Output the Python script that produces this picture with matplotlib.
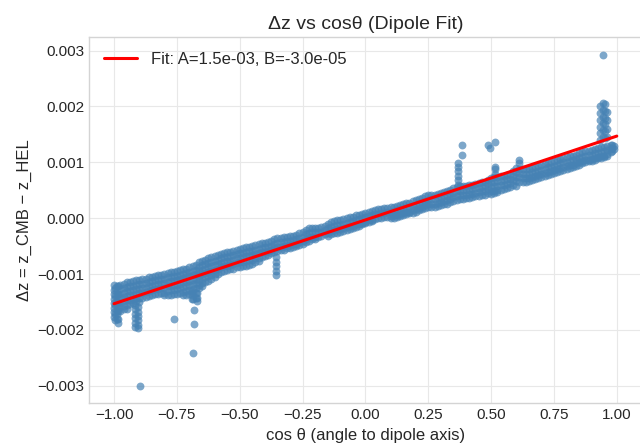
import numpy as np
import matplotlib.pyplot as plt

plt.style.use('seaborn-v0_8-whitegrid')
plt.rcParams['font.family'] = ['Liberation Sans', 'DejaVu Sans']

# main band, read column by column (dz in units of 1e-3)
band_cos = [-1.000, -0.995, -0.985, -0.975, -0.950, -0.925, -0.900, -0.875, -0.850, -0.825,
            -0.800, -0.775, -0.750, -0.725, -0.700, -0.675, -0.650, -0.625, -0.600, -0.575,
            -0.550, -0.525, -0.500, -0.475, -0.450, -0.425, -0.400, -0.375, -0.350, -0.325,
            -0.300, -0.275, -0.250, -0.225, -0.200, -0.175, -0.150, -0.125, -0.100, -0.075,
            -0.050, -0.025, 0.000, 0.025, 0.050, 0.075, 0.100, 0.125, 0.150, 0.175,
            0.200, 0.225, 0.250, 0.275, 0.300, 0.325, 0.350, 0.375, 0.400, 0.425,
            0.450, 0.475, 0.500, 0.525, 0.550, 0.575, 0.600, 0.625, 0.650, 0.675,
            0.700, 0.725, 0.750, 0.775, 0.800, 0.825, 0.850, 0.875, 0.900, 0.925,
            0.950, 0.975, 0.990]
band_dz = [
    [-1.20, -1.28, -1.36, -1.44, -1.52, -1.60, -1.68, -1.76],
    [-1.24, -1.40, -1.56, -1.72, -1.83],
    [-1.22, -1.35, -1.50, -1.66, -1.80, -1.87],
    [-1.19, -1.27, -1.35, -1.43, -1.51, -1.59, -1.66],
    [-1.15, -1.23, -1.31, -1.39, -1.47, -1.55, -1.62],
    [-1.13, -1.21, -1.29, -1.37, -1.45, -1.52],
    [-1.10, -1.18, -1.26, -1.34, -1.42, -1.50],
    [-1.08, -1.16, -1.24, -1.32, -1.41],
    [-1.05, -1.13, -1.21, -1.29, -1.38],
    [-1.02, -1.10, -1.18, -1.26, -1.35],
    [-1.00, -1.08, -1.16, -1.24, -1.33, -1.38],
    [-0.97, -1.05, -1.13, -1.21, -1.29, -1.37],
    [-0.95, -1.03, -1.11, -1.19, -1.27, -1.36],
    [-0.91, -0.99, -1.07, -1.15, -1.23, -1.32, -1.38],
    [-0.88, -0.96, -1.04, -1.12, -1.20, -1.28, -1.36],
    [-0.84, -0.92, -1.00, -1.08, -1.16, -1.24, -1.33, -1.42],
    [-0.76, -0.84, -0.92, -1.00, -1.08, -1.16, -1.22],
    [-0.72, -0.80, -0.88, -0.96, -1.04, -1.12],
    [-0.68, -0.76, -0.84, -0.92, -1.00, -1.06],
    [-0.64, -0.72, -0.80, -0.88, -0.97],
    [-0.61, -0.69, -0.77, -0.85, -0.93],
    [-0.58, -0.66, -0.74, -0.82, -0.90],
    [-0.55, -0.63, -0.71, -0.79, -0.87],
    [-0.52, -0.60, -0.68, -0.76, -0.85],
    [-0.50, -0.58, -0.66, -0.74, -0.82],
    [-0.47, -0.55, -0.63, -0.71, -0.77],
    [-0.44, -0.52, -0.60, -0.67],
    [-0.41, -0.49, -0.57, -0.63],
    [-0.36, -0.44, -0.52, -0.59],
    [-0.34, -0.42, -0.50, -0.56],
    [-0.32, -0.40, -0.48, -0.53],
    [-0.30, -0.38, -0.46, -0.50],
    [-0.25, -0.33, -0.41, -0.47],
    [-0.18, -0.26, -0.34, -0.40],
    [-0.17, -0.25, -0.33, -0.37],
    [-0.16, -0.24, -0.32],
    [-0.10, -0.18, -0.26, -0.31],
    [-0.05, -0.13, -0.21, -0.27],
    [-0.04, -0.12, -0.20, -0.25],
    [0.00, -0.08, -0.16, -0.21],
    [0.03, -0.05, -0.13, -0.17],
    [0.06, -0.02, -0.10, -0.13],
    [0.10, 0.02, -0.06, -0.09],
    [0.13, 0.05, -0.03, -0.05],
    [0.16, 0.08, 0.00],
    [0.18, 0.10, 0.02],
    [0.20, 0.12, 0.04, 0.00],
    [0.22, 0.14, 0.06, 0.03],
    [0.25, 0.17, 0.09, 0.06],
    [0.28, 0.20, 0.12, 0.09],
    [0.32, 0.24, 0.16, 0.12],
    [0.37, 0.29, 0.21, 0.17],
    [0.41, 0.33, 0.25, 0.20],
    [0.42, 0.34, 0.26, 0.21],
    [0.45, 0.37, 0.29, 0.23],
    [0.48, 0.40, 0.32, 0.26],
    [0.54, 0.46, 0.38, 0.31],
    [0.57, 0.49, 0.41, 0.34],
    [0.58, 0.50, 0.42, 0.36],
    [0.60, 0.52, 0.44, 0.38],
    [0.63, 0.55, 0.47, 0.40],
    [0.65, 0.57, 0.49, 0.42],
    [0.72, 0.64, 0.56, 0.48, 0.44],
    [0.74, 0.66, 0.58, 0.50, 0.47],
    [0.76, 0.68, 0.60, 0.52],
    [0.79, 0.71, 0.63, 0.56],
    [0.90, 0.82, 0.74, 0.66, 0.58],
    [0.88, 0.80, 0.72, 0.64],
    [0.88, 0.80, 0.72, 0.66],
    [0.91, 0.83, 0.75, 0.70],
    [0.95, 0.87, 0.79, 0.74],
    [0.99, 0.91, 0.83, 0.78],
    [1.02, 0.94, 0.86, 0.81],
    [1.06, 0.98, 0.90, 0.85],
    [1.09, 1.01, 0.93, 0.89],
    [1.12, 1.04, 0.96, 0.92],
    [1.16, 1.08, 1.00, 0.96],
    [1.20, 1.12, 1.04, 1.00],
    [1.22, 1.14, 1.06, 1.03],
    [1.25, 1.17, 1.09, 1.07],
    [1.28, 1.20, 1.12, 1.10],
    [1.31, 1.24, 1.18],
    [1.30, 1.24],
]

# second pass over the band, between the columns above
band2_cos = [-0.9875, -0.9625, -0.9375, -0.9125, -0.8875, -0.8625, -0.8375, -0.8125, -0.7875, -0.7625,
             -0.7375, -0.7125, -0.6875, -0.6625, -0.6375, -0.6125, -0.5875, -0.5625, -0.5375, -0.5125,
             -0.4875, -0.4625, -0.4375, -0.4125, -0.3875, -0.3625, -0.3375, -0.3125, -0.2875, -0.2625,
             -0.2375, -0.2125, -0.1875, -0.1625, -0.1375, -0.1125, -0.0875, -0.0625, -0.0375, -0.0125,
             0.0125, 0.0375, 0.0625, 0.0875, 0.1125, 0.1375, 0.1625, 0.1875, 0.2125, 0.2375,
             0.2625, 0.2875, 0.3125, 0.3375, 0.3625, 0.3875, 0.4125, 0.4375, 0.4625, 0.4875,
             0.5125, 0.5375, 0.5625, 0.5875, 0.6125, 0.6375, 0.6625, 0.6875, 0.7125, 0.7375,
             0.7625, 0.7875, 0.8125, 0.8375, 0.8625, 0.8875, 0.9125, 0.9375, 0.9625, 0.9825]
band2_dz = [
    [-1.22, -1.31, -1.40, -1.48, -1.56, -1.64, -1.72, -1.80],
    [-1.17, -1.25, -1.33, -1.41, -1.49, -1.57, -1.63],
    [-1.14, -1.22, -1.30, -1.38, -1.46, -1.54],
    [-1.11, -1.19, -1.27, -1.35, -1.43, -1.49],
    [-1.09, -1.17, -1.25, -1.33, -1.42],
    [-1.06, -1.14, -1.22, -1.30, -1.39],
    [-1.03, -1.11, -1.19, -1.27, -1.36],
    [-1.01, -1.09, -1.17, -1.25, -1.34],
    [-0.98, -1.06, -1.14, -1.22, -1.30, -1.37],
    [-0.96, -1.04, -1.12, -1.20, -1.28, -1.36],
    [-0.93, -1.01, -1.09, -1.17, -1.25, -1.33],
    [-0.90, -0.98, -1.06, -1.14, -1.22, -1.30, -1.37],
    [-0.86, -0.94, -1.02, -1.10, -1.18, -1.26, -1.34, -1.44],
    [-0.79, -0.87, -0.95, -1.03, -1.11, -1.19, -1.25],
    [-0.74, -0.82, -0.90, -0.98, -1.06, -1.14],
    [-0.70, -0.78, -0.86, -0.94, -1.02, -1.09],
    [-0.66, -0.74, -0.82, -0.90, -0.99],
    [-0.62, -0.70, -0.78, -0.86, -0.94],
    [-0.60, -0.68, -0.76, -0.84, -0.91],
    [-0.56, -0.64, -0.72, -0.80, -0.88],
    [-0.54, -0.62, -0.70, -0.78, -0.86],
    [-0.51, -0.59, -0.67, -0.75, -0.83],
    [-0.48, -0.56, -0.64, -0.72, -0.79],
    [-0.45, -0.53, -0.61, -0.70],
    [-0.43, -0.51, -0.59, -0.65],
    [-0.38, -0.46, -0.54, -0.61],
    [-0.35, -0.43, -0.51, -0.57],
    [-0.33, -0.41, -0.49, -0.54],
    [-0.31, -0.39, -0.47, -0.51],
    [-0.27, -0.35, -0.43, -0.48],
    [-0.21, -0.29, -0.37, -0.43],
    [-0.17, -0.25, -0.33, -0.38],
    [-0.17, -0.25, -0.33],
    [-0.13, -0.21, -0.29],
    [-0.07, -0.15, -0.23, -0.29],
    [-0.04, -0.12, -0.20, -0.26],
    [-0.02, -0.10, -0.18, -0.23],
    [0.02, -0.06, -0.14, -0.19],
    [0.05, -0.03, -0.11, -0.15],
    [0.08, 0.00, -0.08, -0.11],
    [0.12, 0.04, -0.04, -0.07],
    [0.15, 0.07, -0.01],
    [0.17, 0.09, 0.01],
    [0.19, 0.11, 0.03],
    [0.21, 0.13, 0.05, 0.01],
    [0.24, 0.16, 0.08, 0.04],
    [0.27, 0.19, 0.11, 0.07],
    [0.30, 0.22, 0.14, 0.10],
    [0.35, 0.27, 0.19, 0.14],
    [0.39, 0.31, 0.23, 0.18],
    [0.42, 0.34, 0.26, 0.21],
    [0.44, 0.36, 0.28, 0.22],
    [0.47, 0.39, 0.31, 0.25],
    [0.51, 0.43, 0.35, 0.29],
    [0.56, 0.48, 0.40, 0.33],
    [0.58, 0.50, 0.42, 0.35],
    [0.59, 0.51, 0.43, 0.37],
    [0.62, 0.54, 0.46, 0.39],
    [0.64, 0.56, 0.48, 0.41],
    [0.69, 0.61, 0.53, 0.45],
    [0.73, 0.65, 0.57, 0.49, 0.46],
    [0.75, 0.67, 0.59, 0.51],
    [0.78, 0.70, 0.62, 0.54],
    [0.84, 0.76, 0.68, 0.60],
    [0.89, 0.81, 0.73, 0.65],
    [0.88, 0.80, 0.72, 0.65],
    [0.90, 0.82, 0.74, 0.68],
    [0.93, 0.85, 0.77, 0.72],
    [0.97, 0.89, 0.81, 0.76],
    [1.00, 0.92, 0.84, 0.80],
    [1.04, 0.96, 0.88, 0.83],
    [1.08, 1.00, 0.92, 0.87],
    [1.11, 1.03, 0.95, 0.90],
    [1.14, 1.06, 0.98, 0.94],
    [1.18, 1.10, 1.02, 0.98],
    [1.21, 1.13, 1.05, 1.02],
    [1.24, 1.16, 1.08, 1.05],
    [1.27, 1.19, 1.11, 1.08],
    [1.30, 1.22, 1.15, 1.12],
    [1.31, 1.25, 1.20],
]

# vertical streaks sticking out of the band
spike_cos = [-0.915, -0.905, -0.690, -0.670, -0.355, 0.370, 0.515, 0.610, 0.935, 0.945, 0.955, 0.962]
spike_dz = [
    [-1.55, -1.63, -1.71, -1.79, -1.87, -1.95],
    [-1.59, -1.67, -1.75, -1.83, -1.91, -1.97],
    [-1.30, -1.38, -1.45],
    [-1.34, -1.42, -1.48],
    [-0.70, -0.78, -0.86, -0.94, -1.02],
    [0.60, 0.68, 0.76, 0.84, 0.92, 0.99],
    [0.80, 0.88, 0.92],
    [0.98, 1.04],
    [1.40, 1.52, 1.64, 1.76, 1.88, 2.00],
    [1.46, 1.58, 1.70, 1.82, 1.94, 2.06],
    [1.44, 1.56, 1.68, 1.80, 1.92, 2.04],
    [1.45, 1.60, 1.75, 1.90],
]

# isolated points
out_cos = [-0.897, -0.688, -0.761, -0.683, -0.681, 0.946, 0.487, 0.514, 0.497, 0.386, 0.386]
out_dz = [-3.00, -2.42, -1.81, -1.65, -1.89, 2.93, 1.31, 1.36, 1.26, 1.13, 1.31]

# dipole fit dz = A*cos + B
fit_A = 1.5e-3
fit_B = -3.0e-5

x = []
y = []
for c, col in zip(band_cos + band2_cos + spike_cos, band_dz + band2_dz + spike_dz):
    for v in col:
        x.append(c)
        y.append(v)
x = np.array(x + out_cos)
y = np.array(y + out_dz) * 1e-3

fig = plt.figure(figsize=(6.4, 4.48), dpi=100)
ax = fig.add_axes([0.139, 0.100, 0.864, 0.817])

ax.scatter(x, y, s=32, color='steelblue', alpha=0.7, linewidths=0)

xx = np.array([-1.0, 1.0])
ax.plot(xx, fit_A * xx + fit_B, color='red', lw=2.2,
        label=f'Fit: A={fit_A:.1e}, B={fit_B:.1e}')

ax.set_xlim(-1.1, 1.1)
ax.set_ylim(-3.31e-3, 3.24e-3)
ax.set_xticks([-1.0, -0.75, -0.5, -0.25, 0.0, 0.25, 0.5, 0.75, 1.0])
ax.set_xticklabels(['−1.00', '−0.75', '−0.50', '−0.25', '0.00', '0.25', '0.50', '0.75', '1.00'])
ax.set_yticks([-0.003, -0.002, -0.001, 0.0, 0.001, 0.002, 0.003])
ax.set_yticklabels(['−0.003', '−0.002', '−0.001', '0.000', '0.001', '0.002', '0.003'])
ax.tick_params(labelsize=11)
ax.grid(color='#e8e8e8')
for sp in ax.spines.values():
    sp.set_color('#d4d4d4')

ax.set_title('Δz vs cosθ (Dipole Fit)', fontsize=14)
ax.set_xlabel('cos θ (angle to dipole axis)', fontsize=12)
ax.set_ylabel('Δz = z_CMB − z_HEL', fontsize=12)
ax.legend(loc='upper left', fontsize=12)

fig.savefig('out.png', dpi=100)
